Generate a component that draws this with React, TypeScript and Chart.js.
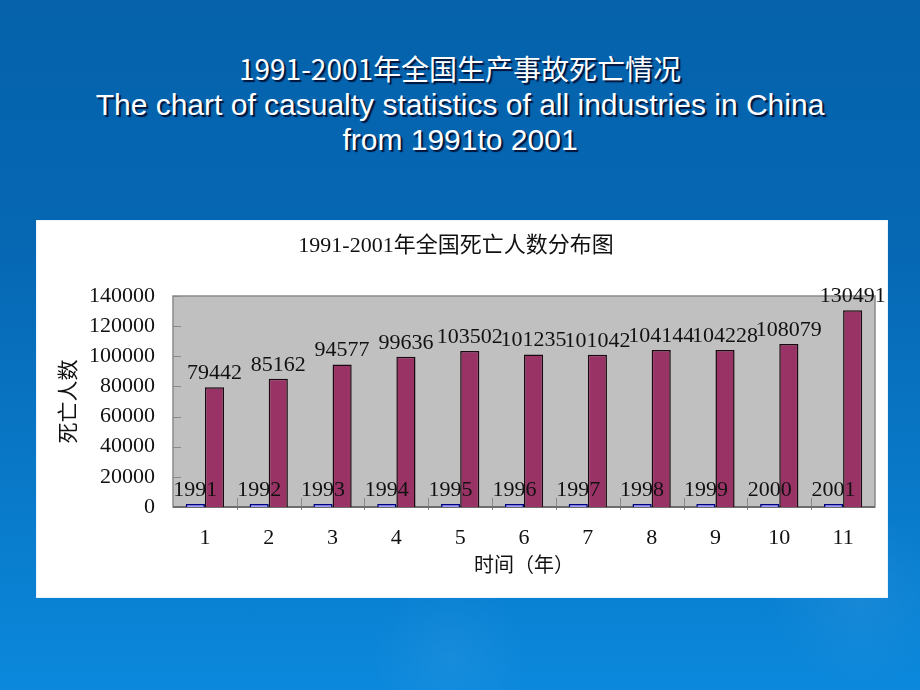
import React, { useEffect, useRef } from "react";
import { Chart, registerables } from "chart.js";

Chart.register(...registerables);

// ---- data ----
const categories = ["1", "2", "3", "4", "5", "6", "7", "8", "9", "10", "11"];
const yearValues = [1991, 1992, 1993, 1994, 1995, 1996, 1997, 1998, 1999, 2000, 2001];
const deathValues = [79442, 85162, 94577, 99636, 103502, 101235, 101042, 104144, 104228, 108079, 130491];
const yMin = 0;
const yMax = 140000;
const yStep = 20000;

const chartTitle = "1991-2001年全国死亡人数分布图";
const xTitle = "时间（年）";
const yTitle = "死亡人数";
const slideTitleCn = "1991-2001年全国生产事故死亡情况";
const slideTitleEn1 = "The chart of casualty statistics of all industries in China";
const slideTitleEn2 = "from 1991to 2001";

const SERIF = '"Liberation Serif", "Noto Sans CJK SC", serif';

const plotAreaPlugin = {
  id: "plotArea",
  beforeDraw(chart: any) {
    const { ctx, chartArea: a, scales } = chart;
    ctx.save();
    ctx.fillStyle = "#c0c0c0";
    ctx.fillRect(a.left, a.top, a.right - a.left, a.bottom - a.top);
    ctx.strokeStyle = "#8a8a8a";
    ctx.lineWidth = 1.5;
    ctx.strokeRect(a.left, a.top, a.right - a.left, a.bottom - a.top);
    // y tick marks (inside)
    ctx.lineWidth = 1;
    ctx.strokeStyle = "#8a8a8a";
    const ys = scales.y;
    for (const t of ys.ticks) {
      const py = Math.round(ys.getPixelForValue(t.value)) + 0.5;
      ctx.beginPath();
      ctx.moveTo(a.left, py);
      ctx.lineTo(a.left + 8, py);
      ctx.stroke();
    }
    // x tick marks at category boundaries
    const n = categories.length;
    const w = (a.right - a.left) / n;
    for (let k = 1; k < n; k++) {
      const px = Math.round(a.left + k * w) + 0.5;
      ctx.beginPath();
      ctx.moveTo(px, a.bottom - 9);
      ctx.lineTo(px, a.bottom + 3);
      ctx.stroke();
    }
    // bottom axis line darker
    ctx.strokeStyle = "#6e6e6e";
    ctx.lineWidth = 2;
    ctx.beginPath();
    ctx.moveTo(a.left, a.bottom);
    ctx.lineTo(a.right, a.bottom);
    ctx.stroke();
    ctx.restore();
  },
};

const valueLabelPlugin = {
  id: "valueLabels",
  afterDatasetsDraw(chart: any) {
    const { ctx } = chart;
    ctx.save();
    ctx.font = `22px ${SERIF}`;
    ctx.fillStyle = "#111";
    ctx.textAlign = "center";
    ctx.textBaseline = "alphabetic";
    chart.data.datasets.forEach((ds: any, i: number) => {
      const meta = chart.getDatasetMeta(i);
      meta.data.forEach((bar: any, j: number) => {
        ctx.fillText(String(ds.data[j]), bar.x, bar.y - 8);
      });
    });
    ctx.restore();
  },
};

function SlideChart() {
  const ref = useRef<HTMLCanvasElement | null>(null);
  useEffect(() => {
    if (!ref.current) return;
    const chart = new Chart(ref.current, {
      type: "bar",
      data: {
        labels: categories,
        datasets: [
          {
            label: "年份",
            data: yearValues,
            backgroundColor: "#9999ff",
            borderColor: "#000080",
            borderWidth: 1.5,
            categoryPercentage: 0.6,
            barPercentage: 1,
          },
          {
            label: "死亡人数",
            data: deathValues,
            backgroundColor: "#993366",
            borderColor: "#1a0a10",
            borderWidth: 1.5,
            categoryPercentage: 0.6,
            barPercentage: 1,
          },
        ],
      },
      options: {
        animation: false,
        responsive: false,
        maintainAspectRatio: false,
        layout: { padding: { left: 0, right: 12, top: 0, bottom: 18 } },
        plugins: {
          legend: { display: false },
          tooltip: { enabled: false },
          title: {
            display: true,
            text: chartTitle,
            color: "#111",
            font: { family: SERIF, size: 22, weight: "normal" },
            padding: { top: 12, bottom: 36.6 },
          },
        },
        scales: {
          x: {
            grid: { display: false, drawTicks: false },
            border: { display: false },
            ticks: { color: "#111", font: { family: SERIF, size: 22 }, padding: 18 },
            title: {
              display: true,
              text: xTitle,
              color: "#111",
              font: { family: SERIF, size: 20 },
              padding: 0,
            },
            afterFit: (s: any) => {
              s.height = 72;
            },
          },
          y: {
            min: yMin,
            max: yMax,
            grid: { display: false, drawTicks: false },
            border: { display: false },
            ticks: {
              stepSize: yStep,
              color: "#111",
              font: { family: SERIF, size: 22 },
              padding: 18,
              callback: (v: any) => String(v),
            },
            title: {
              display: true,
              text: yTitle,
              color: "#111",
              font: { family: SERIF, size: 21 },
              padding: { top: 20, bottom: 0 },
            },
            afterFit: (s: any) => {
              s.width = 136;
            },
          },
        },
      },
      plugins: [plotAreaPlugin, valueLabelPlugin],
    } as any);
    return () => chart.destroy();
  }, []);
  return <canvas ref={ref} width={850} height={376} style={{ display: "block", width: 850, height: 376 }} />;
}

export default function App() {
  const lineStyle: React.CSSProperties = {
    position: "absolute",
    left: 0,
    width: 920,
    textAlign: "center",
    color: "#fff",
    whiteSpace: "nowrap",
    textShadow: "2px 2px 1px rgba(0,15,50,0.95)",
  };
  return (
    <div
      style={{
        position: "fixed",
        left: 0,
        top: 0,
        width: 920,
        height: 690,
        overflow: "hidden",
        background:
          "radial-gradient(circle at 450px 660px, rgba(255,255,255,0.05) 0px, rgba(255,255,255,0) 80px), radial-gradient(circle at 860px 600px, rgba(255,255,255,0.05) 0px, rgba(255,255,255,0) 90px), linear-gradient(to bottom, #0562ab 0%, #0667b3 35%, #0979c8 70%, #0b88dc 100%)",
      }}
    >
      <div style={{ ...lineStyle, top: 51, fontFamily: '"Noto Sans CJK SC", sans-serif', fontSize: 28, lineHeight: "35px" }}>
        {slideTitleCn}
      </div>
      <div style={{ ...lineStyle, top: 87, fontFamily: '"Liberation Sans", Arial, sans-serif', fontSize: 30, lineHeight: "35px" }}>
        {slideTitleEn1}
      </div>
      <div style={{ ...lineStyle, top: 122, fontFamily: '"Liberation Sans", Arial, sans-serif', fontSize: 30, lineHeight: "35px" }}>
        {slideTitleEn2}
      </div>
      <div
        style={{
          position: "absolute",
          left: 37,
          top: 221,
          width: 850,
          height: 376,
          background: "#ffffff",
          boxShadow: "0 0 0 1px #e8f4ff",
        }}
      >
        <SlideChart />
      </div>
    </div>
  );
}
